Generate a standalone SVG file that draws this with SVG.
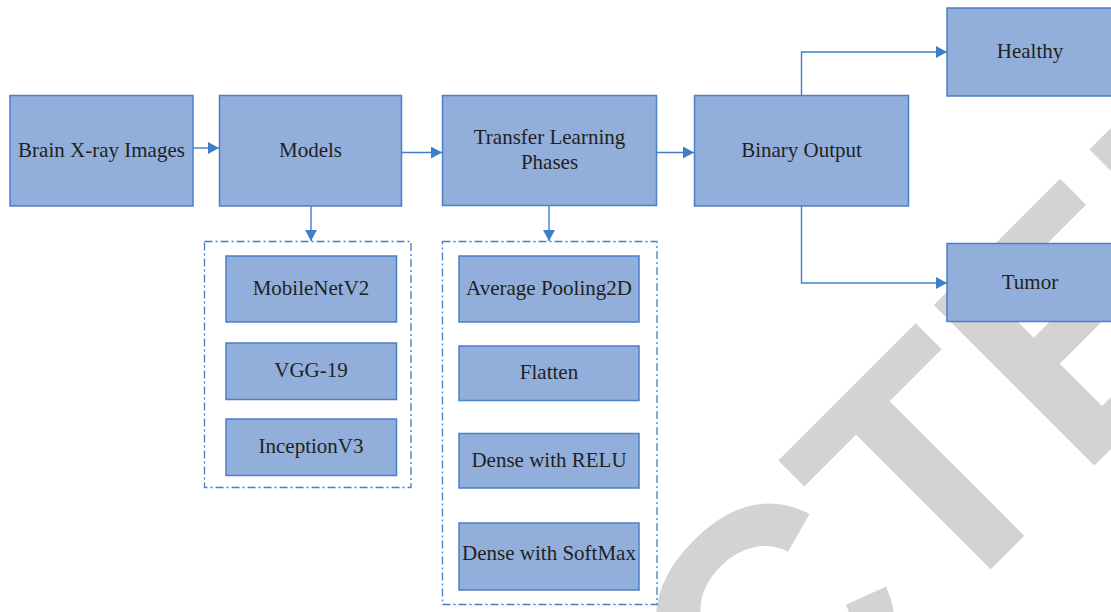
<svg xmlns="http://www.w3.org/2000/svg" width="1111" height="612" viewBox="0 0 1111 612">
<defs>
<style>
.box{fill:#92AFDC;stroke:#4A80C6;stroke-width:1.5}
.lbl{font-family:"Liberation Serif","Times New Roman",serif;font-size:21px;fill:#231F20;text-anchor:middle}
.con{fill:none;stroke:#3F7FCA;stroke-width:1.4}
.grp{fill:none;stroke:#3F7FCA;stroke-width:1.3;stroke-dasharray:8 3 2 3}
.wm{font-family:"Liberation Sans",Arial,sans-serif;font-weight:bold;font-size:330px;fill:#D3D3D3}
</style>
<marker id="arr" markerUnits="userSpaceOnUse" markerWidth="11" markerHeight="12" refX="11" refY="6" orient="auto">
<path d="M0,0 L11,6 L0,12 z" fill="#3F7FCA"/>
</marker>
</defs>
<rect width="1111" height="612" fill="#FFFFFF"/>
<text class="wm" transform="translate(-36,1596) rotate(-45)">RETRACTED</text>

<g id="connectors">
<path class="con" d="M193,148 H219" marker-end="url(#arr)"/>
<path class="con" d="M402,152.5 H442" marker-end="url(#arr)"/>
<path class="con" d="M657,152.5 H694" marker-end="url(#arr)"/>
<path class="con" d="M801.5,95.5 V52 H947" marker-end="url(#arr)"/>
<path class="con" d="M801.5,206 V283 H947" marker-end="url(#arr)"/>
<path class="con" d="M311,206 V241" marker-end="url(#arr)"/>
<path class="con" d="M549,206 V241" marker-end="url(#arr)"/>
</g>

<g id="brain"><rect class="box" x="10" y="95.5" width="183" height="110.5"/><text class="lbl" x="101.5" y="157">Brain X-ray Images</text></g>
<g id="models"><rect class="box" x="219.5" y="95.5" width="182" height="110.5"/><text class="lbl" x="310.5" y="157">Models</text></g>
<g id="tlp"><rect class="box" x="442.5" y="95.5" width="214" height="110"/><text class="lbl" x="549.5" y="143.5">Transfer Learning</text><text class="lbl" x="549.5" y="168.5">Phases</text></g>
<g id="binary"><rect class="box" x="694.5" y="95.5" width="214" height="110.5"/><text class="lbl" x="801.5" y="157">Binary Output</text></g>
<g id="healthy"><rect class="box" x="947" y="8" width="166" height="88"/><text class="lbl" x="1030" y="57.5">Healthy</text></g>
<g id="tumor"><rect class="box" x="947" y="243.5" width="166" height="78"/><text class="lbl" x="1030" y="288.5">Tumor</text></g>

<g id="models-group"><rect class="grp" x="204.5" y="241.5" width="206.5" height="246"/></g>
<g id="mobilenet"><rect class="box" x="226" y="256" width="170.5" height="66"/><text class="lbl" x="311" y="295">MobileNetV2</text></g>
<g id="vgg19"><rect class="box" x="226" y="343" width="170.5" height="56.5"/><text class="lbl" x="311" y="376.5">VGG-19</text></g>
<g id="inception"><rect class="box" x="226" y="419" width="170.5" height="56.5"/><text class="lbl" x="311" y="452.5">InceptionV3</text></g>

<g id="phases-group"><rect class="grp" x="442.5" y="241.5" width="214.5" height="363"/></g>
<g id="avgpool"><rect class="box" x="459" y="256" width="180" height="66"/><text class="lbl" x="549" y="295">Average Pooling2D</text></g>
<g id="flatten"><rect class="box" x="459" y="346" width="180" height="54.5"/><text class="lbl" x="549" y="378.5">Flatten</text></g>
<g id="relu"><rect class="box" x="459" y="433.5" width="180" height="54.5"/><text class="lbl" x="549" y="467">Dense with RELU</text></g>
<g id="softmax"><rect class="box" x="459" y="523" width="180" height="67"/><text class="lbl" x="549" y="560">Dense with SoftMax</text></g>
</svg>
